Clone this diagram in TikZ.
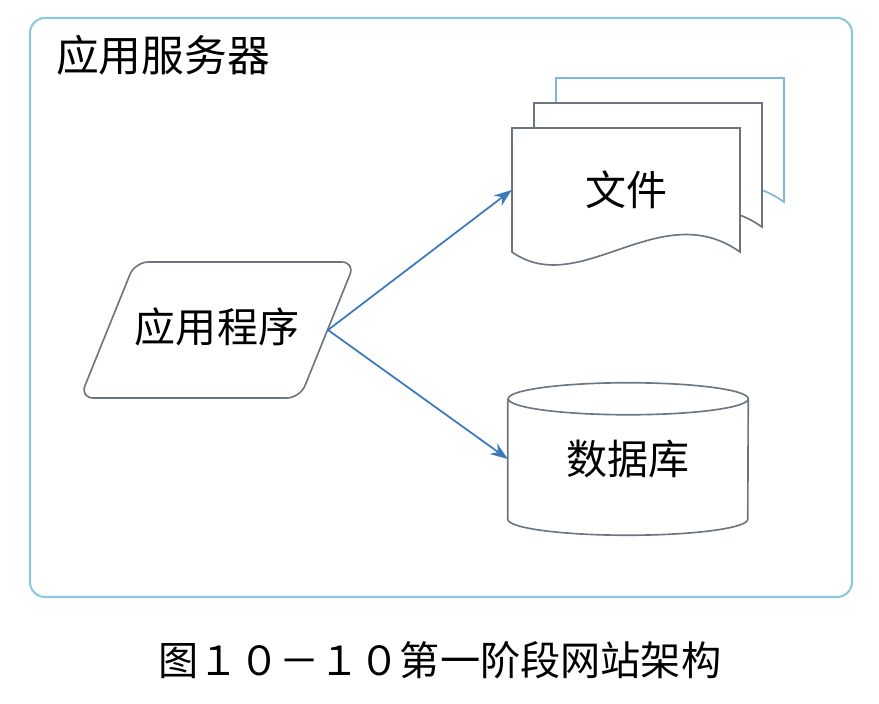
\documentclass[tikz,border=0pt]{standalone}
\usepackage{fontspec}
\setmainfont{Noto Sans CJK SC}
\newfontfamily\pie{Noto Sans CJK SC}[RawFeature=+fwid]
\usetikzlibrary{positioning, arrows.meta, shapes.geometric}
\definecolor{celeste}{HTML}{8CC8E2}
\definecolor{trazo}{HTML}{6C767E}
\definecolor{azulhoja}{HTML}{7DB9DC}
\definecolor{acento}{HTML}{3C78BE}

\begin{document}
\begin{tikzpicture}[x=0.03cm, y=0.03cm, font=\fontsize{35}{40}\selectfont,
			contenedor/.style={rounded corners=0.45cm, draw=celeste, line width=1.8pt},
			proceso/.style={draw=trazo, line width=1.4pt, rounded corners=0.4cm},
			hoja/.style={draw=trazo, fill=white, line width=1.4pt},
			cilindro/.style={minimum width=7.2cm, minimum height=3.6cm, inner sep=0pt},
			flecha/.style={-{Stealth[length=15pt, width=11pt]}, acento, line width=1.5pt}]
			\useasboundingbox (0,0) rectangle (879,703);
			\draw[contenedor] (30,106) rectangle (852,685);
			\node[anchor=west, inner sep=0pt, font=\fontsize{36.5}{40}\selectfont] (titulo) at (56,648) {应用服务器};
			% paralelogramo de la aplicacion
			\draw[proceso] (80,305) -- (135,441) -- (355,441) -- (300,305) -- cycle;
			\node (app) at (217,376) {应用程序};
			\coordinate (salida) at (328,373);
			% pila de documentos
			\foreach \k/\c in {2/azulhoja,1/trazo,0/trazo}
				\draw[hoja, draw=\c, shift={(22*\k,25*\k)}] (512,575) -- (740,575) -- (740,451)
					.. controls (660,508) and (580,403) .. (512,451) -- cycle;
			\node[minimum width=6.84cm, minimum height=3.72cm, inner sep=0pt] (doc) at (626,513) {文件};
			\node[cilindro] (db) at (628,244) {数据库};
			\draw[trazo, line width=1.4pt] (db.north west) -- (db.south west)
				arc[start angle=180, end angle=360, x radius=3.6cm, y radius=0.48cm] -- (db.north east)
				arc[start angle=0, end angle=360, x radius=3.6cm, y radius=0.48cm];
			\draw[flecha] (salida) -- (doc.west);
			\draw[flecha] (salida) -- (db.west);
			\node[font=\pie\fontsize{34.3}{40}\selectfont] (pie) at (440,43) {图10-10第一阶段网站架构};
		\end{tikzpicture}
\end{document}
